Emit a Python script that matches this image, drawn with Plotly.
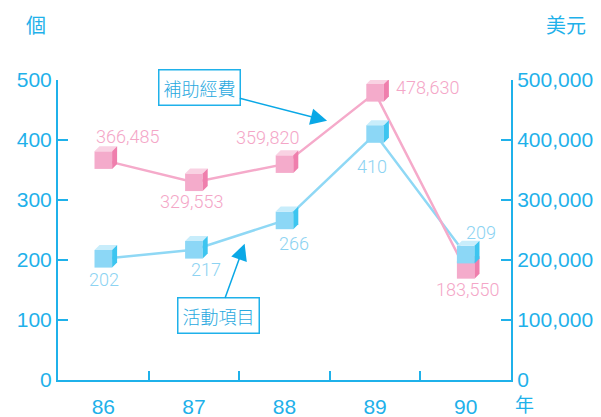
import plotly.graph_objects as go

years = ["86", "87", "88", "89", "90"]
activities = [202, 217, 266, 410, 209]          # 活動項目 (個) - left axis
funding = [366485, 329553, 359820, 478630, 183550]  # 補助經費 (美元) - right axis
left_ticks = [0, 100, 200, 300, 400, 500]
right_ticks = [0, 100000, 200000, 300000, 400000, 500000]

AXIS = "#1FB1EA"
PINK_LINE = "#F5AACA"
PINK_FRONT = "#F4ABCB"
PINK_TOP = "#F9D2E3"
PINK_SIDE = "#EF7FAD"
PINK_TEXT = "#F4A6C7"
BLUE_LINE = "#8FD8F5"
BLUE_FRONT = "#8CD7F6"
BLUE_TOP = "#C8EDFB"
BLUE_SIDE = "#3DC5F0"
BLUE_TEXT = "#8CD3F2"
NUM_FONT = "Liberation Sans, Arial, sans-serif"
LIGHT_FONT = "Roboto, Liberation Sans, sans-serif"
CJK_FONT = "Noto Sans CJK TC, Noto Sans CJK SC, sans-serif"

W, H = 601, 417
l, r, t, b = 58, 90, 80, 37
pw, ph = W - l - r, H - t - b

xs = list(range(len(years)))

fig = go.Figure()
fig.add_trace(go.Scatter(x=xs, y=funding, yaxis="y2", mode="lines",
                         line=dict(color=PINK_LINE, width=2.5), hoverinfo="skip"))
fig.add_trace(go.Scatter(x=xs, y=activities, yaxis="y", mode="lines",
                         line=dict(color=BLUE_LINE, width=2.5), hoverinfo="skip"))

# cube markers drawn as pixel-sized shapes anchored at each data point
s, d = 8.8, 5


def cube(x, y, yref, front, top, side):
    common = dict(xref="x", yref=yref, xsizemode="pixel", ysizemode="pixel",
                  xanchor=x, yanchor=y, layer="above", line=dict(width=0))
    return [
        dict(type="path", fillcolor=front,
             path=f"M {-s} {-s} L {s} {-s} L {s} {s} L {-s} {s} Z", **common),
        dict(type="path", fillcolor=top,
             path=f"M {-s} {s} L {s} {s} L {s+d} {s+d} L {-s+d} {s+d} Z", **common),
        dict(type="path", fillcolor=side,
             path=f"M {s} {-s} L {s+d} {-s+d} L {s+d} {s+d} L {s} {s} Z", **common),
    ]


shapes = []
for x, v in zip(xs, funding):
    shapes += cube(x, v, "y2", PINK_FRONT, PINK_TOP, PINK_SIDE)
for x, v in zip(xs, activities):
    shapes += cube(x, v, "y", BLUE_FRONT, BLUE_TOP, BLUE_SIDE)

annotations = []
pink_shift = [(24, 24), (-2, -19), (-17, 27), (52, 5), (2, -20)]
blue_shift = [(1, -21), (12, -20), (9, -23), (-3, -32), (15, 22)]
for x, v, (dx, dy) in zip(xs, funding, pink_shift):
    annotations.append(dict(x=x, y=v, yref="y2", text=f"{v:,}", showarrow=False,
                            xshift=dx, yshift=dy,
                            font=dict(family=LIGHT_FONT, size=18, weight=300, color=PINK_TEXT)))
for x, v, (dx, dy) in zip(xs, activities, blue_shift):
    annotations.append(dict(x=x, y=v, yref="y", text=f"{v}", showarrow=False,
                            xshift=dx, yshift=dy,
                            font=dict(family=LIGHT_FONT, size=18, weight=300, color=BLUE_TEXT)))

# callout labels
for txt, ax_, ay_, xa, ya in [("補助經費", -128, -33, 2.47, 432),
                              ("活動項目", -26, 72, 1.56, 227)]:
    annotations.append(dict(x=xa, y=ya, xref="x", yref="y", text=txt,
                            showarrow=True, ax=ax_, ay=ay_, arrowhead=2, arrowsize=2.2,
                            arrowwidth=1.5, arrowcolor="#0AA8E6", bordercolor=AXIS,
                            borderwidth=1.5, borderpad=4, bgcolor="white",
                            font=dict(family=CJK_FONT, size=18, weight=300, color="#29A9E0")))


def px(xp, yp):
    return (xp - l) / pw, (H - b - yp) / ph


units = [("個", 36, 25, 20), ("美元", 566, 25, 20), ("年", 524, 403, 19)]
for txt, xp, yp, fs in units:
    ux, uy = px(xp, yp)
    annotations.append(dict(x=ux, y=uy, xref="paper", yref="paper", text=txt,
                            xanchor="center", yanchor="middle", showarrow=False,
                            font=dict(family=CJK_FONT, size=fs, color=AXIS)))

fig.update_layout(
    width=W, height=H,
    margin=dict(l=l, r=r, t=t, b=b, autoexpand=False),
    paper_bgcolor="white", plot_bgcolor="white",
    showlegend=False,
    shapes=shapes,
    annotations=annotations,
    xaxis=dict(range=[-0.5, 4.5], tickvals=xs, ticktext=years, ticks="",
               automargin=False,
               showgrid=False, zeroline=False, showline=True, linecolor=AXIS, linewidth=2,
               tickfont=dict(family=NUM_FONT, size=21, color=AXIS), ticklabelstandoff=7,
               minor=dict(tickvals=[i + 0.5 for i in xs[:-1]], ticks="inside",
                          ticklen=9, tickwidth=1.5, tickcolor=AXIS, showgrid=False)),
    yaxis=dict(range=[0, 500], tickvals=left_ticks, ticks="inside", ticklen=10,
               automargin=False,
               tickwidth=1.5, tickcolor=AXIS, showgrid=False, zeroline=False,
               showline=True, linecolor=AXIS, linewidth=2,
               tickfont=dict(family=NUM_FONT, size=21, color=AXIS)),
    yaxis2=dict(range=[0, 500000], tickvals=right_ticks,
                ticktext=[f"{t_:,}" for t_ in right_ticks], overlaying="y", side="right",
                automargin=False,
                ticks="inside", ticklen=10, tickwidth=1.5, tickcolor=AXIS,
                showgrid=False, zeroline=False, showline=True, linecolor=AXIS, linewidth=2,
                tickfont=dict(family=NUM_FONT, size=21, color=AXIS)),
)

fig.write_html("out.html", config={"displayModeBar": False},
               post_script="document.body.style.margin='0';document.body.style.overflow='hidden';")
